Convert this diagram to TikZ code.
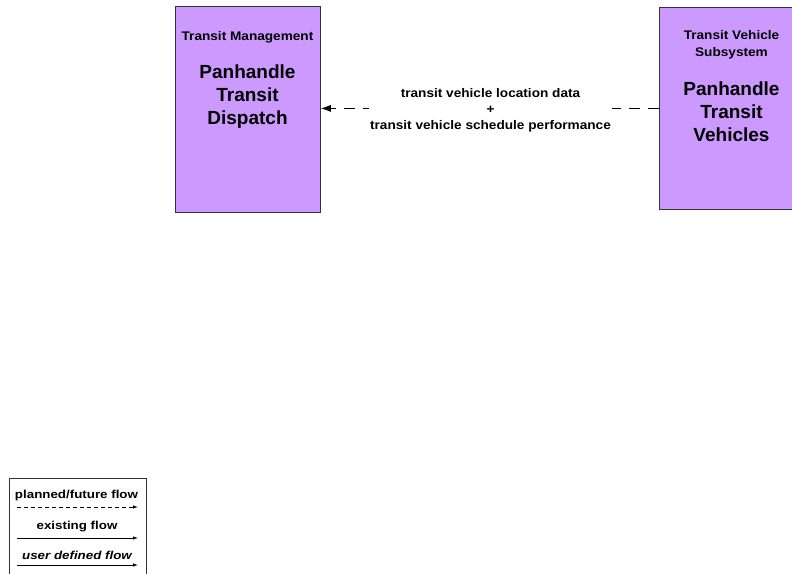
\documentclass[tikz,border=0pt]{standalone}
\usepackage{fontspec}
\setmainfont{Liberation Sans}
\newfontfamily\widefont[FakeStretch=1.09]{Liberation Sans}
\newfontfamily\legfont[FakeStretch=1.16]{Liberation Sans}
\usetikzlibrary{arrows.meta}
\definecolor{boxfill}{RGB}{204,153,255}
\tikzset{
  x=1pt, y=-1pt,
  sysbox/.style={draw=black!80, line width=0.8pt, fill=boxfill, minimum width=145pt, anchor=north west, inner sep=0pt},
  cattext/.style={font=\widefont\fontsize{12.5}{16.5}\selectfont\bfseries, align=center, inner sep=0pt},
  bigtext/.style={font=\fontsize{19}{23}\selectfont\bfseries, align=center, inner sep=0pt},
  flowlabel/.style={font=\widefont\fontsize{12.5}{16}\selectfont\bfseries, align=center, fill=white, inner xsep=1pt, inner ysep=0pt},
  futureflow/.style={line width=0.8pt, dash pattern=on 11pt off 8pt, -{Latex[length=10pt,width=7pt]}},
  legtext/.style={font=\legfont\fontsize{11.5}{14}\selectfont\bfseries, inner sep=0pt},
  legarrow/.style={line width=0.8pt, -{Latex[length=5pt,width=3.5pt]}}
}
\begin{document}
\begin{tikzpicture}
\useasboundingbox (0,0) rectangle (792,573);
% boxes
\node[sysbox, minimum height=206pt] (tm) at (175,6) {};
\node[sysbox, minimum height=202pt] (tv) at (659,7) {};
\node[cattext] (tmcat) at (247.5,37.5) {Transit Management};
\node[bigtext] (tmname) at (247.5,96.5) {Panhandle\\Transit\\Dispatch};
\node[cattext] (tvcat) at (731.5,45) {Transit Vehicle\\Subsystem};
\node[bigtext] (tvname) at (731.5,111.5) {Panhandle\\Transit\\Vehicles};
% flow
\draw[futureflow] (tv.west) -- (tv.west -| tm.east);
\node[flowlabel] (lbl) at (490.5,110.5) {transit vehicle location data\\+\\transit vehicle schedule performance};
% legend
\node[draw=black!80, line width=0.8pt, minimum width=137pt, minimum height=120pt, anchor=north west, inner sep=0pt] (legend) at (9,478) {};
\node[legtext] (l1) at (76.5,495.5) {planned/future flow};
\node[legtext] (l2) at (77,526.5) {existing flow};
\node[legtext, font=\legfont\fontsize{11.5}{14}\selectfont\bfseries\itshape] (l3) at (77,555) {user defined flow};
\coordinate (a1s) at (17,507); \coordinate (a1e) at (138,507);
\coordinate (a2s) at (17,538); \coordinate (a2e) at (138,538);
\coordinate (a3s) at (17,565); \coordinate (a3e) at (138,565);
\draw[legarrow, dash pattern=on 4pt off 3pt] (a1s) -- (a1e);
\draw[legarrow] (a2s) -- (a2e);
\draw[legarrow] (a3s) -- (a3e);
\end{tikzpicture}
\end{document}
